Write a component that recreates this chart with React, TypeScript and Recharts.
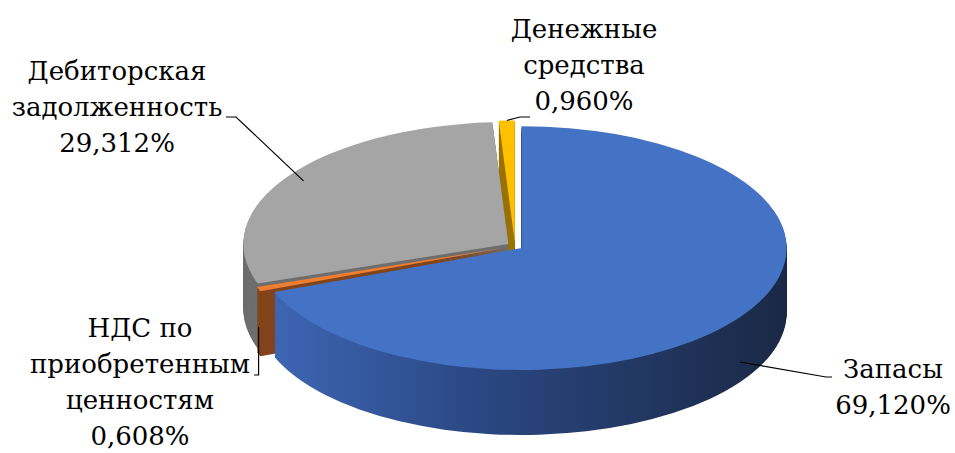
import { PieChart, Pie, Cell, Sector } from "recharts";

// structure of assets, %
const names = [
  "Запасы",
  "НДС по приобретенным ценностям",
  "Дебиторская задолженность",
  "Денежные средства",
];
const shares = [69.12, 0.608, 29.312, 0.96];
const shareLabels = ["69,120%", "0,608%", "29,312%", "0,960%"];
const labelLines = [
  ["Запасы"],
  ["НДС по", "приобретенным", "ценностям"],
  ["Дебиторская", "задолженность"],
  ["Денежные", "средства"],
];

const topColors = ["#4472C4", "#ED7D31", "#A5A5A5", "#FFC000"];
const sideColors = ["url(#blueSide)", "#82441A", "#6E6E6E", "#9A7400"];

const data = names.map((name, i) => ({ name, value: shares[i] }));

// tilt of the disc (screen y = chart y * K)
const K = 0.46;
const W = 955;
const H = Math.ceil(453 / K);
const CX = 515;
const CY = 246 / K;
const R = 265;
const DEPTH = 65 / K;
const EXPLODE = 8;
const LAYERS = 60;

const layerOffsets = Array.from({ length: LAYERS }, (_, i) => DEPTH - (DEPTH * i) / LAYERS);

// label layout in screen pixels
const labelBox = [
  { x: 893, base: 378, line: [[826, 377], [832, 377]], drop: 45, rf: 1 },
  { x: 140, base: 337, line: [[-1, 375], [254, 375]], drop: 38, rf: 1 },
  { x: 117, base: 80, line: [[236, 117], [226, 117]], drop: 0, rf: 0.93 },
  { x: 584, base: 38, line: [[520, 117], [530, 117]], drop: 0, rf: 1 },
];
const LINE_H = 36;
const FONT = "DejaVu Serif, serif";

const exploded = (props: any) => {
  const a = (-props.midAngle * Math.PI) / 180;
  return (
    <Sector
      cx={props.cx + EXPLODE * Math.cos(a)}
      cy={props.cy + EXPLODE * Math.sin(a)}
      innerRadius={0}
      outerRadius={props.outerRadius}
      startAngle={props.startAngle}
      endAngle={props.endAngle}
      fill={props.fill}
      stroke="none"
    />
  );
};

const renderLabel = (props: any) => {
  const i = props.index;
  const box = labelBox[i];
  const a = (-props.midAngle * Math.PI) / 180;
  const r = EXPLODE + props.outerRadius * box.rf;
  const ax = props.cx + r * Math.cos(a);
  const ay = props.cy * K + r * Math.sin(a) * K + box.drop;
  const pts = [[ax, ay], ...box.line.map(([x, y]) => [x < 0 ? ax : x, y])];
  const lines = [...labelLines[i], shareLabels[i]];
  return (
    <g transform={`scale(1, ${1 / K})`}>
      <polyline
        points={pts.map((p) => p.join(",")).join(" ")}
        fill="none"
        stroke="#000"
        strokeWidth={1.2}
      />
      <text
        x={box.x}
        y={box.base}
        textAnchor="middle"
        fontFamily={FONT}
        fontSize={26}
        fill="#000"
      >
        {lines.map((t, j) => (
          <tspan key={j} x={box.x} y={box.base + j * LINE_H}>
            {t}
          </tspan>
        ))}
      </text>
    </g>
  );
};

export default function App() {
  return (
    <div
      style={{
        position: "absolute",
        left: 0,
        top: 0,
        width: W,
        height: 453,
        overflow: "hidden",
        background: "#fff",
      }}
    >
      <div style={{ transform: `scaleY(${K})`, transformOrigin: "0 0" }}>
        <PieChart width={W} height={H} margin={{ top: 0, right: 0, bottom: 0, left: 0 }}>
          <defs>
            <linearGradient id="blueSide" gradientUnits="userSpaceOnUse" x1={250} y1={0} x2={790} y2={0}>
              <stop offset="0%" stopColor="#4069B9" />
              <stop offset="40%" stopColor="#2B4985" />
              <stop offset="100%" stopColor="#1A2844" />
            </linearGradient>
          </defs>
          {layerOffsets.map((d, li) => (
            <Pie
              key={`side-${li}`}
              data={data}
              dataKey="value"
              nameKey="name"
              cx={CX}
              cy={CY + d}
              outerRadius={R}
              startAngle={90}
              endAngle={-270}
              stroke="none"
              shape={exploded}
              isAnimationActive={false}
            >
              {data.map((_, i) => (
                <Cell key={i} fill={sideColors[i]} />
              ))}
            </Pie>
          ))}
          <Pie
            data={data}
            dataKey="value"
            nameKey="name"
            cx={CX}
            cy={CY}
            outerRadius={R}
            startAngle={90}
            endAngle={-270}
            stroke="none"
            shape={exploded}
            label={renderLabel}
            labelLine={false}
            isAnimationActive={false}
          >
            {data.map((_, i) => (
              <Cell key={i} fill={topColors[i]} />
            ))}
          </Pie>
        </PieChart>
      </div>
    </div>
  );
}
